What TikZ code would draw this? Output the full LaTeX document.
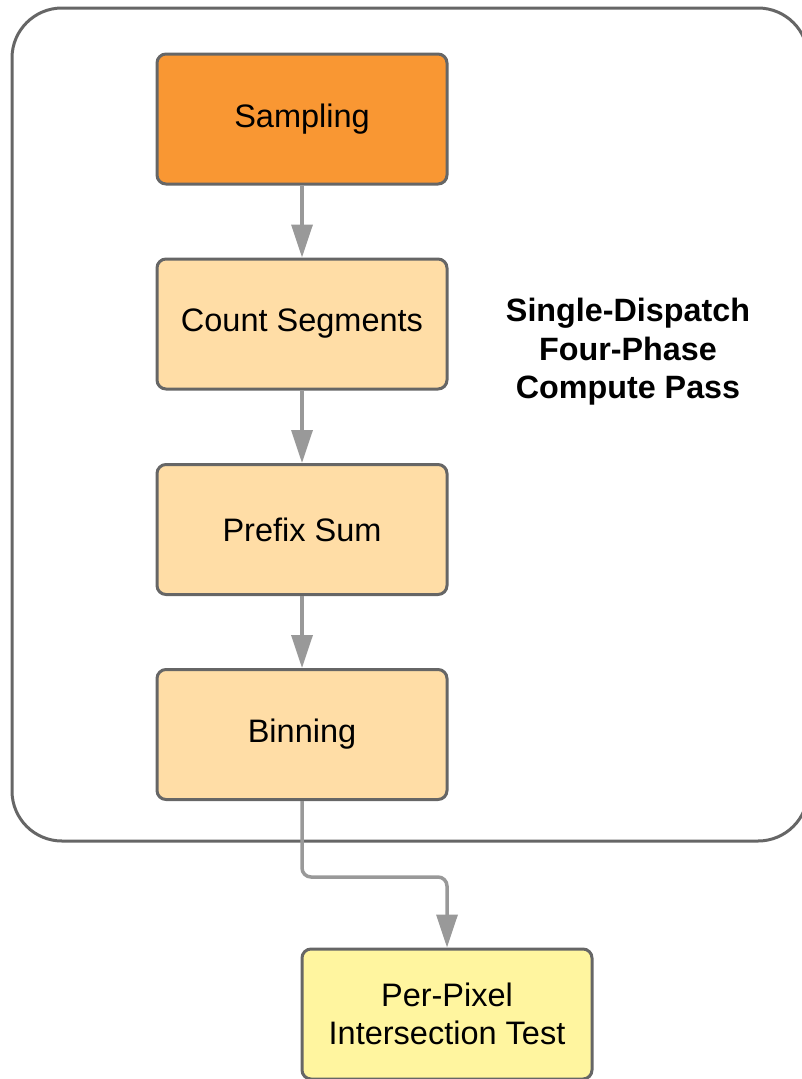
\documentclass[tikz,border=0pt]{standalone}
\usepackage{fontspec}
\setmainfont{Liberation Sans}
\usetikzlibrary{arrows.meta}
\definecolor{frame}{HTML}{666666}
\definecolor{wire}{HTML}{999999}
\definecolor{hot}{HTML}{F99733}
\definecolor{warm}{HTML}{FFDDA6}
\definecolor{pale}{HTML}{FFF59F}
\tikzset{
  stage/.style={draw=frame, line width=3pt, rounded corners=9pt,
    minimum width=290pt, minimum height=130pt, inner sep=0pt,
    align=center, font=\fontsize{32.5}{38.5}\selectfont},
  flow/.style={draw=wire, line width=3.5pt,
    -{Triangle[length=33pt, width=21pt]}},
}
\begin{document}
\begin{tikzpicture}[x=1pt, y=-1pt]
  \useasboundingbox (0,0) rectangle (802,1079);
  \clip (0,0) rectangle (802,1079);
  % enclosing compute pass
  \draw[frame, line width=3pt, rounded corners=50pt] (12,8) rectangle (808,841);
  \node[font=\bfseries\fontsize{32.3}{38.5}\selectfont, align=center] (title) at (628,352)
    {Single-Dispatch\\Four-Phase\\Compute Pass};
  % the four phases
  \node[stage, fill=hot]  (samp) at (302,119) {Sampling};
  \node[stage, fill=warm] (count) at (302,324) {Count Segments};
  \node[stage, fill=warm] (prefix) at (302,529.5) {Prefix Sum};
  \node[stage, fill=warm] (bin) at (302,734.5) {Binning};
  % consumer stage
  \node[stage, fill=pale] (test) at (447,1014) {Per-Pixel\\Intersection Test};
  % connectors
  \draw[flow] (samp) -- (count);
  \draw[flow] (count) -- (prefix);
  \draw[flow] (prefix) -- (bin);
  \coordinate (bend) at (302,877);
  \draw[flow, rounded corners=9pt] (bin.south) -- (bend) -| (test.north);
\end{tikzpicture}
\end{document}
